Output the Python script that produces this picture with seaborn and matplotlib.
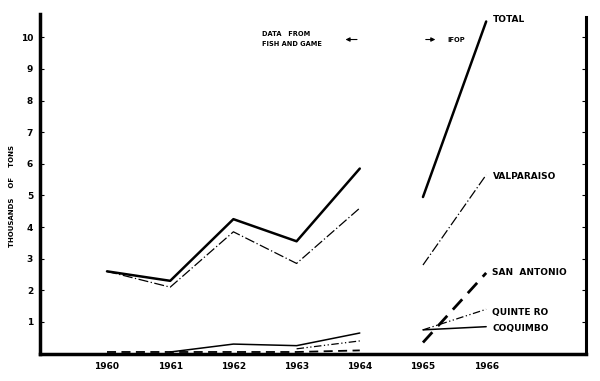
import pandas as pd
import numpy as np
import matplotlib
matplotlib.use("Agg")
import matplotlib.pyplot as plt
import seaborn as sns

# fish and game period (1960-1964) and IFOP period (1965-1966)
years_fg = [1960, 1961, 1962, 1963, 1964]
years_ifop = [1965, 1966]

total_fg = [2.6, 2.3, 4.25, 3.55, 5.85]
total_ifop = [4.95, 10.5]
valparaiso_fg = [2.6, 2.1, 3.85, 2.85, 4.6]
valparaiso_ifop = [2.8, 5.65]
san_antonio_fg = [0.05, 0.05, 0.05, 0.05, 0.1]
san_antonio_ifop = [0.35, 2.55]
quintero_fg = [None, None, None, 0.15, 0.4]
quintero_ifop = [0.75, 1.4]
coquimbo_fg = [None, 0.05, 0.3, 0.25, 0.65]
coquimbo_ifop = [0.75, 0.85]

series = {
    "TOTAL": (total_fg, total_ifop),
    "VALPARAISO": (valparaiso_fg, valparaiso_ifop),
    "SAN  ANTONIO": (san_antonio_fg, san_antonio_ifop),
    "QUINTE RO": (quintero_fg, quintero_ifop),
    "COQUIMBO": (coquimbo_fg, coquimbo_ifop),
}

rows = []
for name, (fg, ifop) in series.items():
    for y, v in zip(years_fg, fg):
        if v is not None:
            rows.append((name, "fg", y, v))
    for y, v in zip(years_ifop, ifop):
        rows.append((name, "ifop", y, v))
df = pd.DataFrame(rows, columns=["port", "period", "year", "tons"])

styles = {
    "TOTAL": dict(lw=1.8, linestyle="-"),
    "VALPARAISO": dict(lw=0.9, linestyle=(0, (8, 2, 1, 2))),
    "SAN  ANTONIO": dict(lw=1.3, linestyle=(0, (5, 3))),
    "QUINTE RO": dict(lw=0.9, linestyle=(0, (6, 2, 1, 2, 1, 2))),
    "COQUIMBO": dict(lw=1.1, linestyle="-"),
}

sns.set_style("white")
plt.rcParams["font.family"] = ["DejaVu Sans"]
plt.rcParams["text.color"] = "black"
plt.rcParams["xtick.color"] = "black"
plt.rcParams["ytick.color"] = "black"
plt.rcParams["axes.labelcolor"] = "black"

fig = plt.figure(figsize=(6, 3.81), dpi=100)
ax = fig.add_axes([0.0667, 0.072, 0.91, 0.8965])

for name, kw in styles.items():
    sub = df[df["port"] == name]
    lw = kw["lw"]
    # IFOP san antonio line is drawn heavier
    for period, part in sub.groupby("period"):
        w = 2.0 if (name == "SAN  ANTONIO" and period == "ifop") else lw
        sns.lineplot(data=part, x="year", y="tons", color="black", ax=ax,
                     estimator=None, linewidth=w, linestyle=kw["linestyle"],
                     legend=False)

label_y = {"TOTAL": 10.55, "VALPARAISO": 5.6, "SAN  ANTONIO": 2.55,
           "QUINTE RO": 1.3, "COQUIMBO": 0.8}
for name, yv in label_y.items():
    ax.text(1966.1, yv, name, fontsize=6.5, fontweight="bold", va="center", ha="left")

ax.set_xlim(1958.94, 1967.58)
ax.set_ylim(0, 10.8)
ax.set_xticks(years_fg + years_ifop)
ax.set_xticklabels([str(y) for y in years_fg + years_ifop], fontsize=6.5, fontweight="bold")
ax.set_yticks(range(1, 11))
ax.set_yticklabels([str(i) for i in range(1, 11)], fontsize=6.5, fontweight="bold")
ax.tick_params(axis="y", direction="in", length=3, width=0.8, right=True, left=True, pad=5)
ax.tick_params(axis="x", length=0, pad=6)
ax.set_xlabel("")
ax.set_ylabel("THOUSANDS    OF    TONS", fontsize=5, fontweight="bold")
ax.yaxis.set_label_coords(-0.046, 0.46)

for side in ["left", "bottom", "right"]:
    ax.spines[side].set_visible(True)
    ax.spines[side].set_color("black")
ax.spines["left"].set_linewidth(2.5)
ax.spines["bottom"].set_linewidth(2.5)
ax.spines["right"].set_linewidth(2.2)
ax.spines["top"].set_visible(False)
ax.spines["left"].set_bounds(0, 10.75)
ax.spines["right"].set_bounds(0, 10.65)

ax.text(1962.45, 9.95, "DATA   FROM\nFISH AND GAME", fontsize=4.8, fontweight="bold",
        va="center", ha="left", linespacing=1.8)
ax.annotate("", xy=(1963.73, 9.93), xytext=(1964.0, 9.93),
            arrowprops=dict(arrowstyle="-|>", color="black", lw=0.8, mutation_scale=6))
ax.annotate("", xy=(1965.24, 9.93), xytext=(1965.0, 9.93),
            arrowprops=dict(arrowstyle="-|>", color="black", lw=0.8, mutation_scale=6))
ax.text(1965.38, 9.93, "IFOP", fontsize=4.8, fontweight="bold", va="center", ha="left")

fig.savefig("out.png", dpi=100)
plt.close(fig)
